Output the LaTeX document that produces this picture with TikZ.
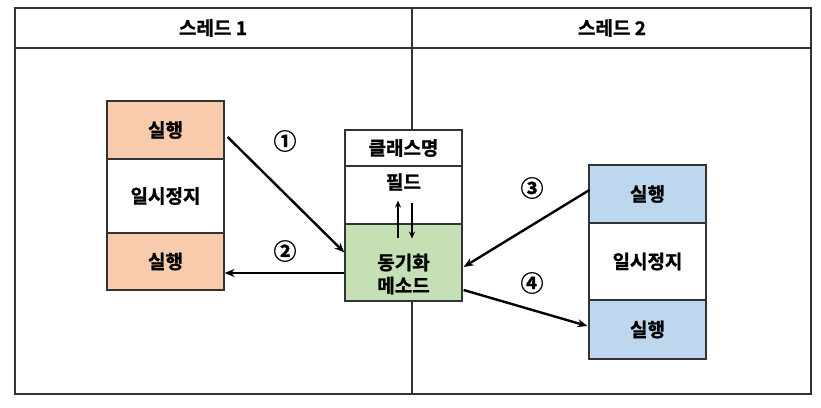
\documentclass[tikz,border=0pt]{standalone}
\usepackage{fontspec}
\setmainfont{Noto Sans CJK KR}[BoldFont={* Bold},BoldFeatures={FakeBold=1.2}]
\usetikzlibrary{arrows.meta}
\definecolor{runorange}{HTML}{F8CBAD}
\definecolor{runblue}{HTML}{BDD7EE}
\definecolor{syncgreen}{HTML}{C5E0B4}
\definecolor{edge}{HTML}{333333}
\begin{document}
\begin{tikzpicture}[x=1pt,y=-1pt,
  cell/.style={draw=edge,line width=1.2pt,minimum width=117pt,inner sep=0pt,font=\fontsize{19}{21}\selectfont\bfseries},
  txt/.style={font=\fontsize{19}{23}\selectfont\bfseries,inner sep=0pt,align=center},
  head/.style={font=\fontsize{19}{21}\selectfont\bfseries,inner sep=0pt},
  num/.style={font=\fontsize{23}{25}\selectfont\bfseries,inner sep=0pt},
  conn/.style={line width=2.4pt,-{Stealth[length=10pt,width=8pt]}}]
\useasboundingbox (0,0) rectangle (821,407);
% frame
\draw[line width=1.5pt,edge] (15,8) rectangle (811,394);
\draw[line width=1.5pt,edge] (15,48) -- (811,48);
\draw[line width=1.5pt,edge] (412,8) -- (412,394);
\node[head] (h1) at (213,28) {스레드 1};
\node[head] (h2) at (612,28) {스레드 2};
% left thread
\node[cell,fill=runorange,minimum height=58pt] (L1) at (165.5,130) {실행};
\node[cell,fill=white,minimum height=74pt] (L2) at (165.5,196) {일시정지};
\node[cell,fill=runorange,minimum height=57pt] (L3) at (165.5,261.5) {실행};
% center class
\node[cell,fill=white,minimum height=36pt] (M1) at (403.5,148) {클래스명};
\node[cell,fill=white,minimum height=58pt] (M2) at (403.5,195) {};
\node[cell,fill=syncgreen,minimum height=77pt] (M3) at (403.5,262.5) {};
\node[txt] (Mf) at (403.5,182) {필드};
\node[txt] (Ms) at (403.5,274) {동기화\\메소드};
% right thread
\node[cell,fill=runblue,minimum height=58pt] (R1) at (647.5,194) {실행};
\node[cell,fill=white,minimum height=77pt] (R2) at (647.5,261.5) {일시정지};
\node[cell,fill=runblue,minimum height=59pt] (R3) at (647.5,329.5) {실행};
% inner arrows
\draw[line width=1.9pt,-{Stealth[length=7pt,width=6pt]}] ([xshift=-5.5pt,yshift=-13pt]M2.south) -- ([xshift=-5.5pt,yshift=24pt]M2.south);
\draw[line width=1.9pt,-{Stealth[length=7pt,width=6pt]}] ([xshift=8.5pt,yshift=22pt]M2.south) -- ([xshift=8.5pt,yshift=-14pt]M2.south);
% connectors
\draw[conn] ([xshift=3pt,yshift=-7pt]L1.east) -- ([yshift=10pt]M3.west);
\draw[conn] ([yshift=-10.5pt]M3.west) coordinate (s2) -- (s2 -| L3.east);
\draw[conn] ([xshift=1pt,yshift=4pt]R1.west) -- ([xshift=1pt,yshift=-4.5pt]M3.east);
\draw[conn] ([xshift=1pt,yshift=-27.5pt]M3.east) -- ([xshift=-1pt,yshift=3.5pt]R3.west);
% labels
\node[num] (n1) at (285,141) {①};
\node[num] (n2) at (285,251) {②};
\node[num] (n3) at (532,188) {③};
\node[num] (n4) at (532,283) {④};
\end{tikzpicture}
\end{document}
